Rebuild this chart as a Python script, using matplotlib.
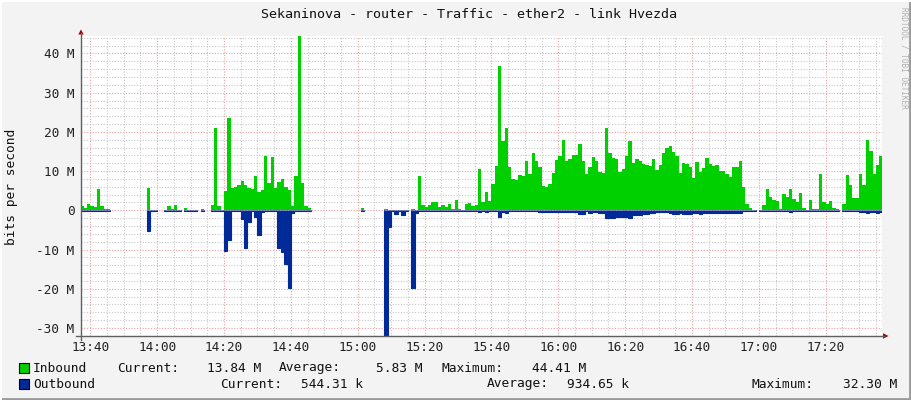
import numpy as np
import pandas as pd
import matplotlib
matplotlib.use("Agg")
import matplotlib.pyplot as plt
import matplotlib.dates as mdates
from matplotlib.patches import Rectangle, Polygon
from matplotlib.lines import Line2D

nan = np.nan

# ---------------- data (Mbit/s, 1-minute samples from 13:37) ----------------
start_time = "2024-01-01 13:37"
view_start = "2024-01-01 13:37:08"
view_end = "2024-01-01 17:36:45"

in_a = [1.1, 0.7, 1.6, 1.2, 0.85, 5.4, 1.1, 0.35, 0.35] + [nan] * 11
in_b = [5.7, 0.2, 0.1, nan, nan, 0.1, 1.1, 0.4, 1.3, 0.1, nan, 0.6, 0.1, 0.05, 0.05, nan, 0.3, nan, nan, 1.35]
in_c = [20.9, 1.1, 0.05, 4.9, 23.5, 5.6, 6.0, 6.5, 7.4, 6.5, 5.8, 5.4, 8.7, 4.7, 5.2, 13.8, 6.9, 13.6, 5.8, 7.1]
in_d = [7.9, 6.0, 5.3, 1.1, 8.7, 44.41, 6.9, 1.1, 0.5] + [nan] * 11
in_e = [nan] * 4 + [0.5] + [nan] * 6 + [0.3] + [0.1] * 6 + [nan, 0.3]
in_f = [0.2, 8.7, 1.4, 0.9, 1.3, 2.1, 2.1, 0.9, 1.4, 0.9, 1.6, 0.3, 2.6, 0.3, 0.05, 1.6, 1.9, 1.2, 1.35, 10.5]
in_g = [2.1, 4.7, 2.5, 6.7, 11.3, 36.7, 17.6, 20.9, 11.1, 8.0, 7.8, 8.9, 8.7, 12.6, 9.3, 14.5, 12.6, 11.0, 6.2, 5.9]
in_h = [6.8, 9.5, 12.8, 13.8, 17.9, 12.5, 13.2, 14.0, 14.2, 16.9, 12.5, 9.3, 11.0, 13.5, 12.5, 9.7, 9.6, 20.9, 14.6, 13.3]
in_i = [13.1, 9.8, 10.5, 13.8, 17.6, 12.0, 13.0, 12.5, 11.8, 11.5, 11.4, 13.1, 10.4, 11.5, 14.5, 15.8, 16.4, 14.9, 13.8, 9.6]
in_j = [12.0, 11.7, 11.1, 8.3, 12.3, 9.8, 10.9, 13.4, 11.8, 11.4, 11.6, 10.0, 10.0, 9.2, 8.6, 11.1, 11.1, 12.55, 6.0, 1.7]
in_k = [0.7, 0.2, nan, 0.05, 1.35, 5.4, 3.4, 2.6, 2.4, 0.25, 4.2, 3.5, 5.4, 2.9, 2.2, 4.4, 0.6, 0.1, 2.6, 0.3]
in_l = [0.3, 9.2, 2.1, 1.7, 2.4, 0.6, 0.3, nan, 1.6, 9.0, 6.4, 3.2, 3.2, 9.2, 6.4, 17.9, 15.1, 9.2, 11.5, 13.84]

out_a = [0.15] * 9 + [nan] * 11
out_b = [5.4, 0.15, 0.1, nan, nan, 0.1, 0.1, 0.1, 0.1, 0.1, nan, 0.1, 0.1, 0.1, 0.1, nan, 0.1, nan, nan, 0.1]
out_c = [0.1, 0.1, 0.1, 10.5, 7.7, 0.3, 0.15, 0.3, 2.1, 9.5, 2.9, 0.3, 1.6, 6.4, 0.5, 0.2, 0.2, 0.2, 0.2, 9.5]
out_d = [10.7, 13.8, 19.7, 0.6, 0.1, 0.1, 0.1, 0.1, 0.1] + [nan] * 11
out_e = [nan] * 4 + [0.05] + [nan] * 6 + [32.3, 4.2, 0.2, 1.0, 0.2, 1.3, 0.1, nan, 19.8]
out_f = [0.6, 0.3] + [0.2] * 17 + [0.4]
out_g = [0.2, 0.4, 0.3, 0.3, 0.3, 1.6, 0.4, 0.8] + [0.3] * 9 + [0.35] * 3
out_h = [0.35] * 9 + [0.85, 0.85, 0.3, 0.6, 0.35, 0.35, 0.6, 0.6, 1.9, 1.9, 1.9]
out_i = [1.6] * 4 + [1.9] + [1.3] * 3 + [1.0, 1.0, 0.7, 0.7] + [0.4] * 4 + [0.6, 1.0, 1.0, 0.7]
out_j = [1.0] * 3 + [0.6, 0.6, 1.0] + [0.6] * 6 + [0.8] * 6 + [0.2, 0.2]
out_k = [0.2, 0.2, nan, 0.1, 0.1, 0.1] + [0.1] * 6 + [0.35] + [0.1] * 7
out_l = [0.1] * 7 + [nan] + [0.1] * 5 + [0.4, 0.4, 0.6, 0.4, 0.4, 0.6, 0.54]

y_ticks = [-30, -20, -10, 0, 10, 20, 30, 40]
y_tick_labels = ["-30 M", "-20 M", "-10 M", "0", "10 M", "20 M", "30 M", "40 M"]
y_limits = (-32.06, 44.41)

title = "Sekaninova - router - Traffic - ether2 - link Hvezda"
y_label = "bits per second"
legend_rows = [
    ("Inbound", "#00CF00",
     [("Current:", 117), ("13.84 M", 261, "r"), ("Average:", 279), ("5.83 M", 422, "r"),
      ("Maximum:", 442), ("44.41 M", 586, "r")]),
    ("Outbound", "#002A97",
     [("Current:", 220), ("544.31 k", 363, "r"), ("Average:", 487), ("934.65 k", 629, "r"),
      ("Maximum:", 752), ("32.30 M", 897, "r")]),
]
watermark = "RRDTOOL / TOBI OETIKER"

inbound = np.array(in_a + in_b + in_c + in_d + in_e + in_f + in_g + in_h + in_i + in_j + in_k + in_l, dtype=float)
outbound = np.array(out_a + out_b + out_c + out_d + out_e + out_f + out_g + out_h + out_i + out_j + out_k + out_l, dtype=float)

times = pd.date_range(start_time, periods=len(inbound) + 1, freq="1min")
edges = mdates.date2num(times.to_pydatetime())

# ---------------- figure ----------------
W, H = 911, 400
MONO = "DejaVu Sans Mono"
fig = plt.figure(figsize=(W / 100, H / 100), dpi=100)
fig.patch.set_facecolor("#F3F3F3")

def fx(px):
    return px / W

def fy(py):
    return 1 - py / H

ax_left, ax_right, ax_top, ax_bottom = 80.7, 881.7, 36.2, 336.0
ax = fig.add_axes([fx(ax_left), fy(ax_bottom), fx(ax_right - ax_left), (ax_bottom - ax_top) / H])
ax.set_facecolor("white")
ax.set_axisbelow(True)

ax.stairs(inbound, edges, baseline=0, fill=True, facecolor="#00CF00", edgecolor="none", lw=0)
ax.stairs(-outbound, edges, baseline=0, fill=True, facecolor="#002A97", edgecolor="#002A97", lw=0.8)

ax.set_xlim(mdates.date2num(pd.Timestamp(view_start).to_pydatetime()),
            mdates.date2num(pd.Timestamp(view_end).to_pydatetime()))
ax.set_ylim(*y_limits)

ax.xaxis.set_major_locator(mdates.MinuteLocator(byminute=[0, 20, 40]))
ax.xaxis.set_minor_locator(mdates.MinuteLocator(byminute=range(0, 60, 5)))
ax.xaxis.set_major_formatter(mdates.DateFormatter("%H:%M"))
ax.set_yticks(y_ticks)
ax.set_yticklabels(y_tick_labels)
ax.set_yticks(np.arange(-32, 45, 2), minor=True)

ax.grid(which="minor", color="#C8C8C8", linestyle=(0, (1, 1.5)), lw=0.8)
ax.grid(which="major", color="#F0A0A0", linestyle=(0, (1, 1.5)), lw=0.8)

ax.tick_params(which="both", length=0)
ax.tick_params(axis="x", pad=3.5, labelsize=9.2, labelcolor="#222222")
ax.tick_params(axis="y", pad=4.6, labelsize=9.2, labelcolor="#222222")
for lab in ax.get_xticklabels() + ax.get_yticklabels():
    lab.set_family(MONO)
for s in ax.spines.values():
    s.set_visible(False)

# axis lines with arrows
axis_col = "#606060"
arrow_col = "#A00000"
fig.add_artist(Line2D([fx(81), fx(81)], [fy(340), fy(33)], color=axis_col, lw=1.0))
fig.add_artist(Line2D([fx(76), fx(884)], [fy(336), fy(336)], color=axis_col, lw=1.0))
fig.add_artist(Polygon([[fx(78.3), fy(34.5)], [fx(83.7), fy(34.5)], [fx(81), fy(29.5)]],
                       closed=True, color=arrow_col, lw=0))
fig.add_artist(Polygon([[fx(883), fy(333.3)], [fx(883), fy(338.7)], [fx(888.5), fy(336)]],
                       closed=True, color=arrow_col, lw=0))

# texts
fig.text(fx(468.5), fy(14), title, ha="center", va="center", family=MONO, fontsize=9.6, color="#111111")
fig.text(fx(12), fy(187), y_label, ha="center", va="center", rotation=90, family=MONO,
         fontsize=9.3, color="#111111")
fig.text(fx(904), fy(7), watermark, ha="center", va="top", rotation=270, family=MONO,
         fontsize=5.6, color="#B0B0B0")

row_y = [368, 384]
for (name, col, items), yy in zip(legend_rows, row_y):
    fig.add_artist(Rectangle((fx(18.5), fy(yy + 5)), fx(10), 10 / H, facecolor=col,
                             edgecolor="black", lw=0.8))
    fig.text(fx(33), fy(yy), name, ha="left", va="center", family=MONO, fontsize=9.3, color="#111111")
    for it in items:
        txt, xx = it[0], it[1]
        ha = "right" if len(it) > 2 else "left"
        fig.text(fx(xx), fy(yy), txt, ha=ha, va="center", family=MONO, fontsize=9.3, color="#111111")

# 3D frame of the canvas
fig.add_artist(Line2D([0, 1], [fy(399), fy(399)], color="#9A9A9A", lw=2))
fig.add_artist(Line2D([fx(910), fx(910)], [0, 1], color="#9A9A9A", lw=2))
fig.add_artist(Line2D([0, 1], [fy(0.5), fy(0.5)], color="#FFFFFF", lw=1.5))
fig.add_artist(Line2D([fx(0.5), fx(0.5)], [0, 1], color="#FFFFFF", lw=1.5))

fig.savefig("out.png", dpi=100, facecolor=fig.get_facecolor())
